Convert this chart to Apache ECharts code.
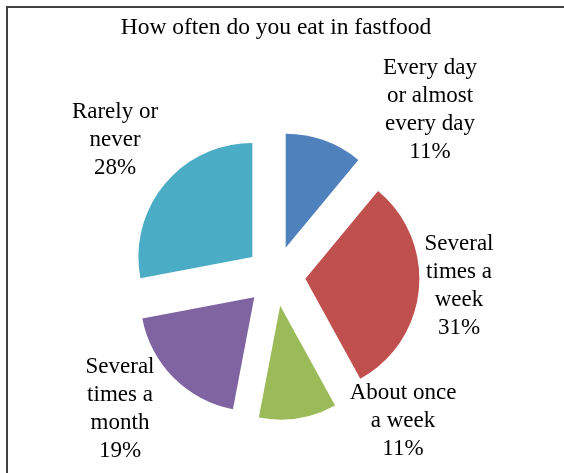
<!DOCTYPE html>
<html>
<head>
<meta charset="utf-8">
<script src="https://cdn.jsdelivr.net/npm/echarts@6/dist/echarts.min.js"></script>
<style>
  html, body { margin: 0; padding: 0; background: #fff; }
  #chart { width: 564px; height: 473px; }
</style>
</head>
<body>
<div id="chart"></div>
<script>
// Survey answers, clockwise from 12 o'clock
const categories = [
  'Every day or almost every day',
  'Several times a week',
  'About once a week',
  'Several times a month',
  'Rarely or never'
];
const labelText = [
  'Every day\nor almost\nevery day',
  'Several\ntimes a\nweek',
  'About once\na week',
  'Several\ntimes a\nmonth',
  'Rarely or\nnever'
];
const shares = [11, 31, 11, 19, 28];
const sliceColors = ['#4F81BD', '#C0504D', '#9BBB59', '#8064A2', '#4BACC6'];

// Where each label block sits (centre point, pixels)
const labelAnchors = [[430, 110], [459, 286], [403, 421], [120, 409], [115, 140]];

const serif = '"Liberation Serif", "Times New Roman", serif';

const chart = echarts.init(document.getElementById('chart'), null, { renderer: 'canvas' });

// Category labels: name lines followed by the share, centred on an anchor
const labelGraphics = shares.map((v, i) => ({
  type: 'text',
  x: labelAnchors[i][0],
  y: labelAnchors[i][1],
  style: {
    text: labelText[i] + '\n' + v + '%',
    fontFamily: serif,
    fontSize: 23,
    lineHeight: 28,
    fill: '#000',
    align: 'center',
    verticalAlign: 'middle'
  }
}));

chart.setOption({
  animation: false,
  graphic: [{
    type: 'polyline',
    shape: { points: [[7, 473], [7, 7], [564, 7]] },
    style: { stroke: '#404040', lineWidth: 2, fill: null }
  }, {
    type: 'text',
    x: 276,
    y: 28,
    style: {
      text: 'How often do you eat in fastfood',
      fontFamily: serif,
      fontSize: 23.5,
      fill: '#000',
      align: 'center',
      verticalAlign: 'middle'
    }
  }].concat(labelGraphics),
  series: [{
    type: 'pie',
    center: [275.5, 276],
    radius: [0, 114],
    startAngle: 90,
    clockwise: true,
    selectedMode: 'multiple',
    selectedOffset: 30,
    emphasis: { disabled: true },
    itemStyle: { borderWidth: 0 },
    label: { show: false },
    labelLine: { show: false },
    data: categories.map((name, i) => ({
      name: name,
      value: shares[i],
      selected: true,
      itemStyle: { color: sliceColors[i] }
    }))
  }]
});
</script>
</body>
</html>
